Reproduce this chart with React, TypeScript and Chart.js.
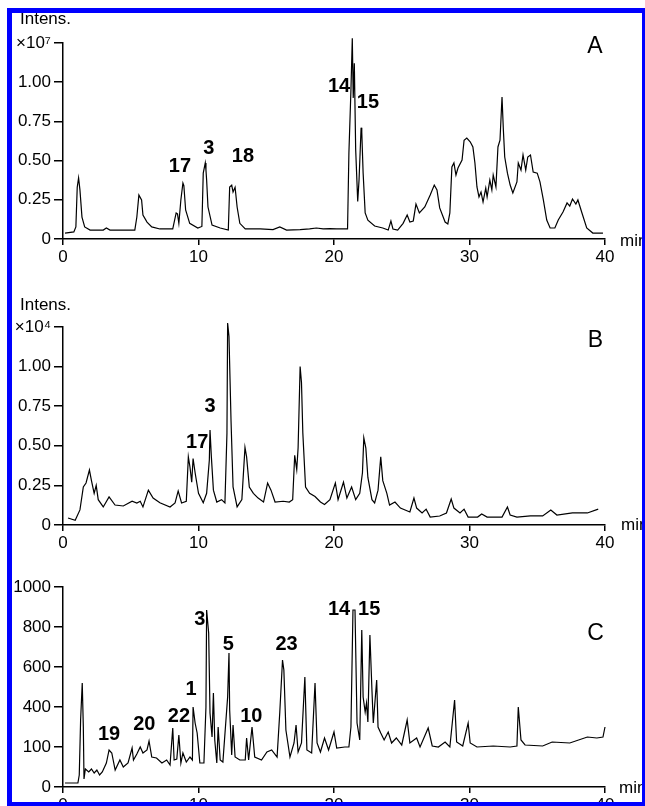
import React, { useEffect, useRef } from "react";
import { Chart, registerables } from "chart.js";

Chart.register(...registerables);

const FONT = '"Liberation Sans", Arial, Helvetica, sans-serif';

// ---- axis tick labels ----
const xTickLabels = ["0", "10", "20", "30", "40"];
const yTickLabelsA = ["0", "0.25", "0.50", "0.75", "1.00", "×10⁷"];
const yTickLabelsB = ["0", "0.25", "0.50", "0.75", "1.00", "×10⁴"];
const yTickLabelsC = ["0", "100", "400", "600", "800", "1000"];

// ---- panel A (x10^7) ----
const timesA = [
  0.15, 0.8, 0.95, 1.05, 1.15, 1.25, 1.4, 1.6, 2.0, 2.97, 3.2, 3.47, 5.3, 5.45, 5.6, 5.8, 5.9, 6.2, 6.55, 7.15,
  8.1, 8.35, 8.45, 8.55, 8.7, 8.85, 8.92, 9.05, 9.35, 9.95, 10.25, 10.35, 10.5, 10.55, 10.6, 10.7, 11.0, 11.6,
  12.2, 12.3, 12.45, 12.55, 12.7, 12.85, 13.05, 13.45, 14.55, 15.5, 16.0, 16.5, 17.5, 18.2, 18.7, 19.2, 19.7,
  20.2, 21.0, 21.1, 21.25, 21.35, 21.42, 21.5, 21.6, 21.75, 21.85, 22.0, 22.05, 22.15, 22.3, 22.5, 23.0, 23.6,
  24.0, 24.2, 24.35, 24.7, 25.1, 25.4, 25.6, 25.85, 26.05, 26.3, 26.7, 27.1, 27.4, 27.6, 27.8, 28.2, 28.4,
  28.55, 28.7, 28.85, 29.0, 29.15, 29.45, 29.6, 29.8, 30.05, 30.25, 30.4, 30.55, 30.7, 30.85, 31.0, 31.2,
  31.3, 31.5, 31.65, 31.75, 31.95, 32.1, 32.25, 32.4, 32.5, 32.6, 32.8, 33.0, 33.2, 33.5, 33.6, 33.8, 33.95,
  34.15, 34.3, 34.5, 34.7, 35.0, 35.2, 35.45, 35.7, 35.95, 36.3, 36.55, 36.9, 37.2, 37.4, 37.6, 37.85, 38.0,
  38.3, 38.65, 39.1, 39.85,
];
const intensA = [
  0.038, 0.045, 0.077, 0.33, 0.39, 0.313, 0.14, 0.077, 0.057, 0.057, 0.07, 0.057, 0.057, 0.14, 0.28, 0.249,
  0.153, 0.108, 0.077, 0.064, 0.065, 0.166, 0.16, 0.1, 0.25, 0.357, 0.34, 0.185, 0.1, 0.07, 0.08, 0.42, 0.485,
  0.44, 0.376, 0.204, 0.089, 0.07, 0.057, 0.332, 0.344, 0.3, 0.33, 0.204, 0.1, 0.064, 0.064, 0.06, 0.077,
  0.057, 0.06, 0.064, 0.07, 0.064, 0.066, 0.064, 0.064, 0.55, 0.95, 1.28, 0.9, 1.12, 0.57, 0.24, 0.38, 0.71,
  0.68, 0.42, 0.166, 0.12, 0.083, 0.07, 0.057, 0.115, 0.064, 0.057, 0.1, 0.153, 0.108, 0.115, 0.223, 0.166,
  0.204, 0.28, 0.344, 0.313, 0.198, 0.108, 0.096, 0.166, 0.46, 0.485, 0.408, 0.453, 0.504, 0.63, 0.644, 0.62,
  0.587, 0.485, 0.332, 0.268, 0.3, 0.236, 0.325, 0.268, 0.376, 0.313, 0.408, 0.332, 0.587, 0.63, 0.906, 0.695,
  0.523, 0.42, 0.344, 0.293, 0.364, 0.485, 0.44, 0.536, 0.44, 0.523, 0.536, 0.427, 0.42, 0.364, 0.249, 0.121,
  0.07, 0.07, 0.121, 0.172, 0.23, 0.21, 0.255, 0.223, 0.249, 0.166, 0.07, 0.038, 0.038,
];
const peakTextsA = ["17", "3", "18", "14", "15", "A"];
const peakTimesA = [8.63, 10.77, 13.28, 20.37, 22.5, 39.26];
const peakLevelsA = [0.427, 0.542, 0.491, 0.9375, 0.835, 1.186];

// ---- panel B (x10^4) ----
const timesB = [
  0.37, 0.9, 1.25, 1.5, 1.7, 1.95, 2.1, 2.3, 2.45, 2.6, 2.97, 3.4, 3.84, 4.45, 5.1, 5.45, 5.7, 5.9, 6.3, 6.65,
  7.15, 7.9, 8.27, 8.5, 8.75, 9.1, 9.25, 9.37, 9.5, 9.6, 9.75, 10.0, 10.35, 10.6, 10.8, 10.85, 10.95, 11.1,
  11.35, 11.7, 11.95, 12.1, 12.15, 12.25, 12.4, 12.55, 12.85, 13.2, 13.43, 13.55, 13.75, 14.05, 14.4, 14.8,
  15.1, 15.35, 15.65, 16.25, 16.7, 16.95, 17.1, 17.25, 17.35, 17.5, 17.6, 17.7, 17.9, 18.2, 18.6, 19.0, 19.3,
  19.7, 20.1, 20.3, 20.7, 20.95, 21.3, 21.6, 21.9, 22.1, 22.2, 22.35, 22.5, 22.8, 23.0, 23.25, 23.45, 23.6,
  23.9, 24.1, 24.5, 24.9, 25.6, 25.9, 26.1, 26.5, 26.8, 27.1, 27.8, 28.3, 28.65, 28.85, 29.3, 29.6, 29.9,
  30.6, 30.9, 31.3, 32.4, 32.8, 33.0, 33.5, 34.5, 35.4, 36.0, 36.45, 37.6, 38.7, 39.5,
];
const intensB = [
  0.044, 0.03, 0.095, 0.24, 0.265, 0.347, 0.28, 0.2, 0.25, 0.16, 0.114, 0.177, 0.126, 0.12, 0.15, 0.139, 0.15,
  0.114, 0.22, 0.17, 0.14, 0.114, 0.139, 0.215, 0.139, 0.15, 0.43, 0.366, 0.27, 0.42, 0.33, 0.2, 0.14, 0.2,
  0.41, 0.6, 0.43, 0.22, 0.145, 0.16, 0.139, 0.58, 1.275, 1.19, 0.66, 0.24, 0.114, 0.16, 0.49, 0.43, 0.24,
  0.2, 0.17, 0.145, 0.265, 0.22, 0.145, 0.15, 0.145, 0.16, 0.44, 0.35, 0.486, 1.0, 0.9, 0.58, 0.24, 0.2, 0.18,
  0.145, 0.13, 0.16, 0.265, 0.16, 0.27, 0.17, 0.24, 0.16, 0.2, 0.33, 0.55, 0.486, 0.3, 0.16, 0.139, 0.22,
  0.43, 0.28, 0.2, 0.126, 0.145, 0.107, 0.082, 0.17, 0.107, 0.076, 0.1, 0.05, 0.057, 0.076, 0.164, 0.107,
  0.076, 0.1, 0.05, 0.05, 0.07, 0.05, 0.05, 0.114, 0.063, 0.05, 0.057, 0.057, 0.095, 0.063, 0.076, 0.076, 0.1,
];
const peakTextsB = ["17", "3", "B"];
const peakTimesB = [9.9, 10.85, 39.3];
const peakLevelsB = [0.486, 0.713, 1.124];

// ---- panel C ----
const timesC = [
  0.15, 1.1, 1.2, 1.3, 1.42, 1.5, 1.55, 1.65, 1.9, 2.1, 2.3, 2.5, 2.7, 2.9, 3.2, 3.4, 3.6, 3.85, 4.2, 4.45,
  4.8, 5.1, 5.2, 5.45, 5.7, 5.9, 6.2, 6.35, 6.55, 6.9, 7.3, 7.65, 7.9, 8.1, 8.2, 8.4, 8.55, 8.7, 8.85, 9.1,
  9.37, 9.55, 9.6, 9.75, 9.9, 10.1, 10.4, 10.55, 10.6, 10.75, 10.85, 11.0, 11.1, 11.2, 11.35, 11.45, 11.6,
  11.8, 12.15, 12.25, 12.3, 12.45, 12.55, 12.7, 13.05, 13.45, 13.55, 13.7, 13.95, 14.15, 14.65, 15.05, 15.4,
  15.8, 16.0, 16.2, 16.3, 16.45, 16.75, 17.05, 17.2, 17.35, 17.6, 17.85, 18.0, 18.35, 18.6, 18.75, 19.0,
  19.3, 19.6, 20.0, 20.2, 20.8, 21.1, 21.25, 21.4, 21.55, 21.7, 21.9, 22.05, 22.15, 22.3, 22.4, 22.5, 22.65,
  22.8, 22.9, 23.15, 23.25, 23.45, 23.7, 24.0, 24.25, 24.6, 25.0, 25.4, 25.6, 26.1, 26.35, 26.95, 27.25,
  27.7, 28.2, 28.55, 28.9, 29.05, 29.5, 29.9, 30.05, 30.55, 31.75, 33.0, 33.5, 33.6, 33.8, 34.1, 35.4, 36.1,
  37.4, 38.7, 39.4, 39.85, 40.0,
];
const intensC = [
  20, 20, 60, 335, 520, 300, 40, 90, 75, 90, 70, 85, 60, 75, 120, 185, 170, 85, 135, 100, 120, 195, 135, 165,
  200, 170, 185, 230, 150, 145, 120, 135, 110, 295, 135, 140, 260, 120, 170, 125, 150, 135, 400, 320, 270,
  120, 120, 400, 885, 770, 370, 250, 470, 235, 120, 300, 135, 125, 450, 670, 385, 160, 310, 150, 135, 135,
  245, 135, 300, 150, 135, 175, 185, 150, 375, 635, 585, 285, 150, 220, 310, 175, 220, 550, 185, 170, 520,
  220, 175, 245, 185, 275, 195, 200, 200, 300, 885, 885, 320, 235, 785, 450, 375, 420, 325, 760, 485, 320,
  535, 300, 270, 235, 275, 220, 245, 210, 335, 220, 245, 200, 295, 205, 200, 225, 200, 435, 225, 205, 320,
  220, 200, 205, 200, 205, 400, 235, 210, 205, 225, 220, 250, 245, 250, 300,
];
const peakTextsC = ["19", "20", "22", "1", "3", "5", "10", "23", "14", "15", "C"];
const peakTimesC = [3.4, 6.0, 8.56, 9.45, 10.1, 12.2, 13.9, 16.5, 20.37, 22.6, 39.3];
const peakLevelsC = [235, 285, 325, 460, 810, 685, 325, 685, 860, 860, 735];

type PanelCfg = {
  times: number[];
  values: number[];
  ymax: number;
  ystep: number;
  yLabels: string[];
  texts: string[];
  tPos: number[];
  vPos: number[];
  padTop: number;
  xh: number;
};

const peakPlugin = {
  id: "peakLabels",
  afterDatasetsDraw(chart: any, _args: any, opts: any) {
    const { ctx, scales } = chart;
    const xs = scales.x;
    const ys = scales.y;
    ctx.save();
    ctx.fillStyle = "#000";
    ctx.textAlign = "center";
    ctx.textBaseline = "alphabetic";
    const texts: string[] = opts.texts || [];
    texts.forEach((txt, i) => {
      const isLetter = /^[A-Z]$/.test(txt);
      ctx.font = isLetter ? `23px ${FONT}` : `bold 20px ${FONT}`;
      ctx.fillText(txt, xs.getPixelForValue(opts.tPos[i]), ys.getPixelForValue(opts.vPos[i]));
    });
    ctx.restore();
  },
};

function buildChart(canvas: HTMLCanvasElement, p: PanelCfg) {
  const tickFont = { family: FONT, size: 17 };
  return new Chart(canvas, {
    type: "line",
    data: {
      datasets: [
        {
          data: p.times.map((t, i) => ({ x: t, y: p.values[i] })),
          borderColor: "#000",
          borderWidth: 1.2,
          pointRadius: 0,
          tension: 0,
          fill: false,
          clip: false as any,
        } as any,
      ],
    },
    options: {
      animation: false,
      responsive: false,
      devicePixelRatio: 1,
      events: [],
      layout: { padding: { left: 0, right: 40, top: p.padTop, bottom: 0 } },
      plugins: {
        legend: { display: false },
        tooltip: { enabled: false },
        peakLabels: { texts: p.texts, tPos: p.tPos, vPos: p.vPos },
      } as any,
      scales: {
        x: {
          type: "linear",
          min: 0,
          max: 40,
          afterFit: (s: any) => {
            s.height = p.xh;
          },
          ticks: {
            stepSize: 10,
            autoSkip: false,
            maxRotation: 0,
            padding: 2,
            color: "#000",
            font: tickFont,
            callback: (_v: any, i: number) => xTickLabels[i],
          },
          grid: {
            display: true,
            drawOnChartArea: false,
            drawTicks: true,
            tickLength: 6,
            color: "#000",
            lineWidth: 1.5,
          },
          border: { display: true, color: "#000", width: 1.5 },
        },
        y: {
          type: "linear",
          min: 0,
          max: p.ymax,
          afterFit: (s: any) => {
            s.width = 63;
          },
          ticks: {
            stepSize: p.ystep,
            autoSkip: false,
            padding: 3,
            color: "#000",
            font: tickFont,
            callback: (_v: any, i: number) => p.yLabels[i],
          },
          grid: {
            display: true,
            drawOnChartArea: false,
            drawTicks: true,
            tickLength: 9,
            color: "#000",
            lineWidth: 1.5,
          },
          border: { display: true, color: "#000", width: 1.5 },
        },
      },
    } as any,
    plugins: [peakPlugin as any],
  });
}

const textStyle: React.CSSProperties = {
  position: "absolute",
  fontFamily: FONT,
  fontSize: 17,
  lineHeight: "17px",
  color: "#000",
  whiteSpace: "nowrap",
};

export default function App() {
  const refA = useRef<HTMLCanvasElement>(null);
  const refB = useRef<HTMLCanvasElement>(null);
  const refC = useRef<HTMLCanvasElement>(null);

  useEffect(() => {
    const charts = [
      buildChart(refA.current!, {
        times: timesA,
        values: intensA,
        ymax: 1.25,
        ystep: 0.25,
        yLabels: yTickLabelsA,
        texts: peakTextsA,
        tPos: peakTimesA,
        vPos: peakLevelsA,
        padTop: 43,
        xh: 31,
      }),
      buildChart(refB.current!, {
        times: timesB,
        values: intensB,
        ymax: 1.25,
        ystep: 0.25,
        yLabels: yTickLabelsB,
        texts: peakTextsB,
        tPos: peakTimesB,
        vPos: peakLevelsB,
        padTop: 57,
        xh: 35,
      }),
      buildChart(refC.current!, {
        times: timesC,
        values: intensC,
        ymax: 1000,
        ystep: 200,
        yLabels: yTickLabelsC,
        texts: peakTextsC,
        tPos: peakTimesC,
        vPos: peakLevelsC,
        padTop: 27,
        xh: 19,
      }),
    ];
    return () => charts.forEach((c) => c.destroy());
  }, []);

  return (
    <div
      style={{
        position: "fixed",
        left: 0,
        top: 0,
        width: 645,
        height: 806,
        background: "#fff",
        overflow: "hidden",
      }}
    >
      <canvas ref={refA} width={645} height={270} style={{ position: "absolute", left: 0, top: 0 }} />
      <canvas ref={refB} width={645} height={290} style={{ position: "absolute", left: 0, top: 270 }} />
      <canvas ref={refC} width={645} height={246} style={{ position: "absolute", left: 0, top: 560 }} />
      <div style={{ ...textStyle, left: 20, top: 10 }}>Intens.</div>
      <div style={{ ...textStyle, left: 20, top: 296 }}>Intens.</div>
      <div style={{ ...textStyle, left: 620, top: 232 }}>min</div>
      <div style={{ ...textStyle, left: 621, top: 516 }}>min</div>
      <div style={{ ...textStyle, left: 619, top: 779 }}>min</div>
      <div
        style={{
          position: "absolute",
          left: 7,
          top: 8,
          width: 638,
          height: 798,
          boxSizing: "border-box",
          borderTop: "5px solid #0000ff",
          borderLeft: "5px solid #0000ff",
          borderRight: "3px solid #0000ff",
          borderBottom: "4px solid #0000ff",
          pointerEvents: "none",
        }}
      />
    </div>
  );
}
